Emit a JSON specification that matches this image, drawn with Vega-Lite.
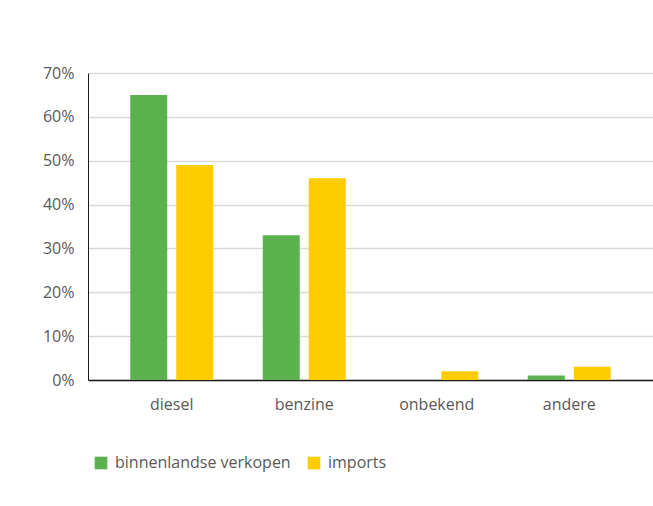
{
  "$schema": "https://vega.github.io/schema/vega-lite/v6.json",
  "width": 565,
  "height": 307,
  "autosize": {"type": "none"},
  "padding": {"left": 88, "top": 73, "right": 0, "bottom": 126},
  "data": {
    "values": [
      {"brandstof": "diesel", "reeks": "binnenlandse verkopen", "aandeel": 0.65},
      {"brandstof": "diesel", "reeks": "imports", "aandeel": 0.49},
      {"brandstof": "benzine", "reeks": "binnenlandse verkopen", "aandeel": 0.33},
      {"brandstof": "benzine", "reeks": "imports", "aandeel": 0.46},
      {"brandstof": "onbekend", "reeks": "binnenlandse verkopen", "aandeel": 0.0},
      {"brandstof": "onbekend", "reeks": "imports", "aandeel": 0.02},
      {"brandstof": "andere", "reeks": "binnenlandse verkopen", "aandeel": 0.01},
      {"brandstof": "andere", "reeks": "imports", "aandeel": 0.03}
    ]
  },
  "mark": {"type": "bar"},
  "encoding": {
    "x": {
      "field": "brandstof",
      "type": "nominal",
      "sort": ["diesel", "benzine", "onbekend", "andere"],
      "scale": {"paddingInner": 0, "paddingOuter": 0.132},
      "axis": {"title": null, "labelAngle": 0, "ticks": false, "labelPadding": 16, "domainColor": "#1a1a1a", "domainWidth": 1.5, "grid": false}
    },
    "xOffset": {
      "field": "reeks",
      "type": "nominal",
      "sort": ["binnenlandse verkopen", "imports"],
      "scale": {"paddingInner": 0.196, "paddingOuter": 0.538}
    },
    "y": {
      "field": "aandeel",
      "type": "quantitative",
      "scale": {"domain": [0, 0.7], "nice": false},
      "axis": {"title": null, "format": ".0%", "values": [0, 0.1, 0.2, 0.3, 0.4, 0.5, 0.6, 0.7], "ticks": false, "labelPadding": 14, "gridColor": "#d9d9d9", "gridWidth": 1.5, "domainColor": "#1a1a1a", "domainWidth": 1}
    },
    "color": {
      "field": "reeks",
      "type": "nominal",
      "sort": ["binnenlandse verkopen", "imports"],
      "scale": {"domain": ["binnenlandse verkopen", "imports"], "range": ["#5bb14e", "#ffcc00"]},
      "legend": {"title": null, "orient": "none", "legendX": 5, "legendY": 382, "direction": "horizontal", "symbolType": "square", "symbolSize": 160, "symbolStrokeWidth": 0, "symbolOpacity": 1, "labelFontSize": 16, "labelColor": "#595959", "labelFont": "Open Sans", "labelOffset": 6, "labelLimit": 0, "columnPadding": 15}
    }
  },
  "config": {
    "view": {"stroke": null},
    "font": "Open Sans",
    "axis": {"labelFont": "Open Sans", "labelFontSize": 16, "labelColor": "#595959"}
  }
}
